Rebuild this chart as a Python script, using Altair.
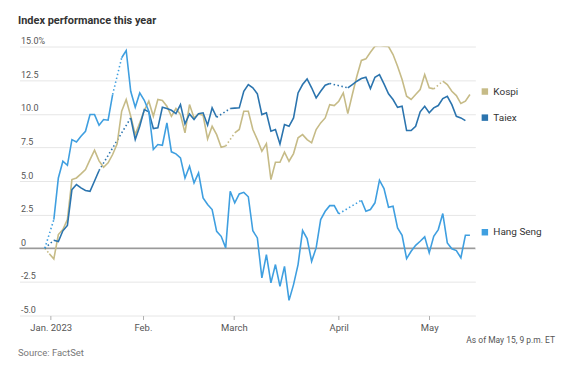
import altair as alt
import pandas as pd

title_text = "Index performance this year"
source_text = "Source: FactSet"
asof_text = "As of May 15, 9 p.m. ET"

series_names = ["Kospi", "Taiex", "Hang Seng"]
series_colors = ["#c6bb87", "#2b74ae", "#3f9fe0"]

# trading-day index (0 = Dec. 30, 2022) and % change since end of 2022
kospi_idx = [0, 1, 2, 3, 4, 5, 6, 7, 8, 9, 10, 11, 12, 13, 14, 15, 16, 17, 18, 19, 20,
             21, 22, 23, 24, 25, 26, 27, 28, 29, 30, 31, 32, 33, 34, 35, 36, 37, 38, 39, 40,
             42, 43, 44, 45, 46, 47, 48, 49, 50, 51, 52, 53, 54, 55, 56, 57, 58, 59, 60,
             61, 62, 63, 64, 65, 66, 67, 68, 69, 70, 71, 72, 73, 74, 75, 76, 77, 78, 79, 80,
             81, 82, 83, 84, 85, 86, 88, 89, 90, 91, 92, 93, 94]
kospi_val = [0, -0.4, -0.79, 1.02, 1.39, 2.13, 5.11, 5.23, 5.53, 5.85, 6.59, 7.29, 6.5, 6.02,
             6.35, 6.97, 7.76, 10.19, 11.06, 9.81, 8.45,
             9.32, 10.24, 10.93, 9.81, 11.06, 10.98, 10.56, 9.81, 10.39, 9.94, 8.58, 10.68,
             9.69, 9.99, 9.89, 8.13, 9.07, 8.45, 7.51, 7.6,
             8.58, 8.83, 10.19, 10.19, 8.83, 8.08, 7.21, 7.78, 5.11, 6.39, 6.39, 7.14, 6.47,
             7.04, 8.21, 8.45, 8.08, 7.84, 8.83,
             9.32, 9.69, 10.68, 10.61, 10.93, 11.55, 10.01, 11.43, 12.79, 13.96, 14.08, 14.57,
             15.02, 15.07, 15.02, 15.0, 14.40, 13.53, 12.54, 11.30,
             11.06, 11.43, 11.80, 12.91, 11.93, 11.85, 12.42, 12.17, 11.67, 11.35, 10.76,
             10.93, 11.43]

taiex_idx = [0, 2, 3, 4, 5, 6, 7, 8, 9, 10, 11, 12,
             19, 20, 21, 22, 23, 24, 25, 26, 27, 28, 29, 30, 31, 32, 33, 34, 35, 36, 37, 38,
             41, 42, 43, 44, 45, 46, 47, 48, 49, 50, 51, 52, 53, 54, 55, 56, 57, 58, 59, 60,
             61, 62, 63,
             67, 68, 69, 70, 71, 72, 73, 74, 75, 76, 77, 78, 79, 80, 81, 82, 83, 84, 85, 86,
             87, 88, 89, 90, 91, 92, 93]
taiex_val = [0, 0.6, 0.5, 1.3, 1.7, 4.36, 4.74, 4.49, 4.3, 4.24, 5.0, 5.78,
             9.69, 8.08, 9.07, 10.31, 10.14, 8.90, 8.95, 10.48, 10.39, 10.26, 10.01, 10.68,
             9.25, 9.99, 9.57, 10.01, 10.07, 9.15, 10.44, 9.74,
             10.39, 10.42, 10.44, 11.67, 12.17, 11.93, 11.48, 9.94, 10.07, 8.70, 8.83, 7.76,
             9.20, 9.07, 9.69, 11.55, 12.17, 12.59, 11.93, 11.18,
             11.67, 12.12, 12.25,
             11.93, 12.17, 12.42, 12.62, 12.71, 11.87, 12.71, 12.91, 12.22, 11.48, 11.06,
             10.48, 10.56, 8.75, 8.75, 9.07, 10.14, 10.56, 10.07, 10.44,
             10.61, 11.13, 11.30, 10.68, 9.81, 9.69, 9.49]

hang_idx = [0, 2, 3, 4, 5, 6, 7, 8, 9, 10, 11, 12, 13, 14, 15,
            17, 18, 19, 20, 21, 22, 23, 24, 25, 26, 27, 28, 29, 30, 31, 32, 33, 34, 35, 36,
            37, 38, 39, 40, 41, 42, 43, 44, 45, 46, 47, 48, 49, 50, 51, 52, 53, 54, 55, 56,
            57, 58, 59, 60, 61, 62, 63, 64, 65,
            70, 71, 72, 73, 74, 75, 76, 77, 78, 79, 80, 81, 82, 83, 84, 85, 86, 87, 88, 89,
            90, 91, 92, 93, 94]
hang_val = [0, 2.13, 5.23, 6.47, 6.17, 8.08, 7.91, 8.33, 8.70, 9.94, 9.94, 9.15, 9.57, 9.52,
            11.43,
            14.16, 14.70, 11.67, 10.48, 11.55, 11.0, 10.19, 7.34, 7.71, 7.66, 9.32, 7.17, 7.02,
            6.72, 5.23, 6.10, 4.86, 5.61, 3.75, 3.25,
            2.88, 1.26, 0.89, 0.03, 4.24, 3.38, 4.04, 4.16, 3.83, 1.3, 0.77, -2.20, -0.47,
            -2.57, -1.21, -2.83, -1.34, -3.87, -2.70, -1.21,
            1.32, 0.72, -0.97, 0.03, 2.13, 2.75, 3.17, 3.17, 2.56,
            3.57, 2.75, 2.88, 3.38, 5.06, 4.44, 3.05, 3.12, 1.52, 0.97, -0.77, -0.22, 0.22,
            0.52, 0.85, -0.34, 0.89, 1.39, 2.58, 0.40,
            -0.04, -0.17, -0.71, 0.97, 0.97]

# market holidays bridged with a dotted line (index of the point before the gap)
dotted_after = {"Kospi": [0, 40, 86], "Taiex": [0, 12, 38, 63], "Hang Seng": [0, 15, 65]}

x_tick_pos = [1.3, 21.7, 41.8, 65, 85]
x_tick_labels = ["Jan. 2023", "Feb.", "March", "April", "May"]
y_ticks = [-5, -2.5, 0, 2.5, 5, 7.5, 10, 12.5, 15]

series_data = {
    "Kospi": (kospi_idx, kospi_val),
    "Taiex": (taiex_idx, taiex_val),
    "Hang Seng": (hang_idx, hang_val),
}

solid_rows, dot_rows, label_rows = [], [], []
last_idx = max(max(v[0]) for v in series_data.values())
for name, (idxs, vals) in series_data.items():
    seg = 0
    for j, (i, v) in enumerate(zip(idxs, vals)):
        if j > 0 and idxs[j - 1] in dotted_after[name]:
            dot_rows.append({"series": name, "seg": f"{name}-d{j}", "idx": idxs[j - 1], "val": vals[j - 1]})
            dot_rows.append({"series": name, "seg": f"{name}-d{j}", "idx": i, "val": v})
            seg += 1
        solid_rows.append({"series": name, "seg": f"{name}-s{seg}", "idx": i, "val": v})
    label_rows.append({"series": name, "idx": last_idx, "val": vals[-1]})

solid_df = pd.DataFrame(solid_rows)
dot_df = pd.DataFrame(dot_rows)
label_df = pd.DataFrame(label_rows)

FONT = "Roboto"

x_label_expr = "[" + ",".join(f"'{t}'" for t in x_tick_labels) + "][indexof([" + \
    ",".join(str(p) for p in x_tick_pos) + "], datum.value)]"
y_label_expr = ("datum.value == 15 ? '15.0%' : datum.value == 0 ? '0' : "
                "(datum.value % 1 == 0 ? datum.value + '.0' : datum.value + '')")

x_enc = alt.X("idx:Q",
              scale=alt.Scale(domain=[-5.6, 95.2], nice=False, zero=False),
              axis=alt.Axis(values=x_tick_pos, labelExpr=x_label_expr, grid=False, domain=False,
                            ticks=True, tickSize=4, tickColor="#b0b0b0", labelPadding=3,
                            labelFontSize=9.5, labelColor="#555555", labelFont=FONT,
                            labelOverlap=False, labelFlush=False, title=None))
y_enc = alt.Y("val:Q",
              scale=alt.Scale(domain=[-5, 15], nice=False, zero=False),
              axis=alt.Axis(values=y_ticks, labelExpr=y_label_expr, grid=True,
                            gridColor="#e6e6e6", gridWidth=1, domain=False, ticks=False,
                            tickSize=0, labelAlign="left", labelBaseline="bottom",
                            labelPadding=-1, labelOffset=-1, labelFontSize=9,
                            labelColor="#555555", labelFont=FONT, title=None))
color_enc = alt.Color("series:N", scale=alt.Scale(domain=series_names, range=series_colors),
                      legend=None)

zero_line = alt.Chart(pd.DataFrame({"val": [0]})).mark_rule(
    color="#9a9a9a", strokeWidth=1.5).encode(y=y_enc)

solid = alt.Chart(solid_df).mark_line(strokeWidth=1.6, clip=True).encode(
    x=x_enc, y=y_enc, color=color_enc, detail="seg:N")
dotted = alt.Chart(dot_df).mark_line(strokeWidth=1.6, strokeDash=[1.5, 2.5], clip=True).encode(
    x=x_enc, y=y_enc, color=color_enc, detail="seg:N")

squares = alt.Chart(label_df).mark_square(size=42, xOffset=15, yOffset=-3, opacity=1).encode(
    x=x_enc, y=y_enc, color=color_enc)
names = alt.Chart(label_df).mark_text(align="left", baseline="middle", dx=23.5, dy=-3,
                                      fontSize=10, font=FONT, color="#333333").encode(
    x=x_enc, y=y_enc, text="series:N")

title = alt.Chart(pd.DataFrame({"t": [title_text]})).mark_text(
    align="left", baseline="middle", fontSize=11, fontWeight="bold", font=FONT,
    color="#333333").encode(text="t:N", x=alt.value(-1.5), y=alt.value(-26))
source = alt.Chart(pd.DataFrame({"t": [source_text]})).mark_text(
    align="left", baseline="middle", fontSize=9.5, font=FONT, color="#777777").encode(
    text="t:N", x=alt.value(-1.5), y=alt.value(308))
asof = alt.Chart(pd.DataFrame({"t": [asof_text]})).mark_text(
    align="right", baseline="middle", fontSize=8.5, font=FONT, color="#555555").encode(
    text="t:N", x=alt.value(537.5), y=alt.value(295))

chart = alt.layer(zero_line, dotted, solid, squares, names, title, source, asof).properties(
    width=457.5, height=270,
    autosize=alt.AutoSizeParams(type="none"),
    padding={"left": 11.5, "top": 38, "right": 100, "bottom": 50},
).configure_view(stroke=None)

chart.save("out.html", embed_options={"renderer": "svg", "actions": False})
